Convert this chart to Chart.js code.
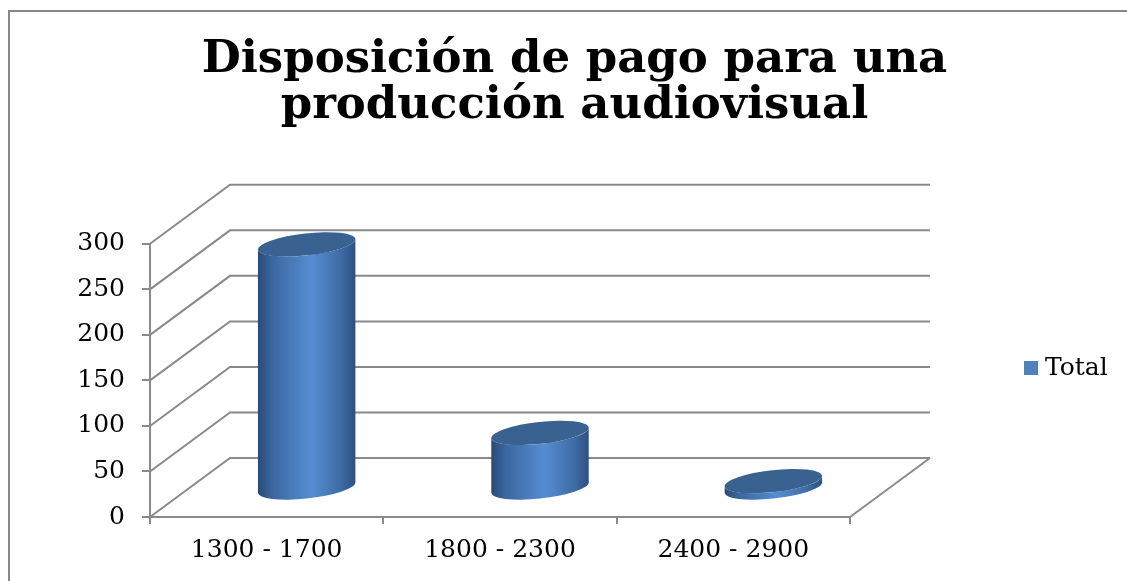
<!DOCTYPE html>
<html>
<head>
<meta charset="utf-8">
<script src="https://cdn.jsdelivr.net/npm/chart.js@4.4.1/dist/chart.umd.min.js"></script>
<style>
  html, body { margin: 0; padding: 0; background: #fff; }
  #wrap { width: 1127px; height: 581px; }
</style>
</head>
<body>
<div id="wrap"><canvas id="pagoChart"></canvas></div>
<script>
const categories = ['1300 - 1700', '1800 - 2300', '2400 - 2900'];
const totals = [267, 60, 7];
const seriesName = 'Total';
const yMin = 0;
const yMax = 300;
const yStep = 50;

const gridColor = '#8a8a8a';
const barBlue = '#4f81bd';
const serif = "'DejaVu Serif', 'Liberation Serif', serif";

// oblique offset of the back wall, like the 3D view in Excel
const depthX = 80;
const depthY = -59;

const cylinderPlugin = {
    id: 'cylinders',
    beforeDraw(chart) {
        const ctx = chart.ctx;
        ctx.save();
        ctx.strokeStyle = '#888';
        ctx.lineWidth = 2;
        ctx.beginPath();
        ctx.moveTo(9, chart.height);
        ctx.lineTo(9, 11);
        ctx.lineTo(chart.width, 11);
        ctx.stroke();
        ctx.restore();
    },
    beforeDatasetsDraw(chart) {
        const ctx = chart.ctx;
        const area = chart.chartArea;
        const y = chart.scales.y;

        // side wall + back wall gridlines
        ctx.save();
        ctx.strokeStyle = gridColor;
        ctx.lineWidth = 2;
        y.ticks.forEach(t => {
            const py = y.getPixelForValue(t.value);
            ctx.beginPath();
            ctx.moveTo(area.left, py);
            ctx.lineTo(area.left + depthX, py + depthY);
            ctx.lineTo(area.right + depthX, py + depthY);
            ctx.stroke();
        });
        const py0 = y.getPixelForValue(0);
        ctx.beginPath();
        ctx.moveTo(area.right, py0);
        ctx.lineTo(area.right + depthX, py0 + depthY);
        ctx.stroke();
        ctx.restore();

        // cylinders
        const meta = chart.getDatasetMeta(0);
        const data = chart.data.datasets[0].data;
        const rot = -0.11;
        meta.data.forEach((bar, i) => {
            const rx = bar.width / 2;
            const ry = 11;
            const cx = bar.x + depthX / 2;
            const yBase = y.getPixelForValue(0) + depthY / 2;
            const yTop = y.getPixelForValue(data[i]) + depthY / 2;
            const t0 = Math.atan(-ry * Math.sin(rot) / (rx * Math.cos(rot)));

            const grad = ctx.createLinearGradient(cx - rx, 0, cx + rx, 0);
            grad.addColorStop(0, '#2a4a75');
            grad.addColorStop(0.15, '#3b67a1');
            grad.addColorStop(0.55, '#568dd2');
            grad.addColorStop(0.85, '#3f6ba5');
            grad.addColorStop(1, '#2d4f7d');

            ctx.save();
            ctx.fillStyle = grad;
            ctx.beginPath();
            ctx.ellipse(cx, yBase, rx, ry, rot, t0, t0 + Math.PI, false);
            ctx.ellipse(cx, yTop, rx, ry, rot, t0 + Math.PI, t0, true);
            ctx.closePath();
            ctx.fill();

            ctx.fillStyle = '#3a6291';
            ctx.beginPath();
            ctx.ellipse(cx, yTop, rx, ry, rot, 0, Math.PI * 2);
            ctx.fill();
            ctx.restore();
        });
        return false;
    },
    afterDraw(chart) {
        const ctx = chart.ctx;
        const lx = chart.width - 103;
        const ly = 368;
        ctx.save();
        ctx.fillStyle = barBlue;
        ctx.fillRect(lx, ly - 7, 14, 14);
        ctx.fillStyle = '#000';
        ctx.font = '25px ' + serif;
        ctx.textBaseline = 'middle';
        ctx.fillText(chart.data.datasets[0].label, lx + 21, ly);
        ctx.restore();
    }
};

const ctx = document.getElementById('pagoChart').getContext('2d');

const pagoChart = new Chart(ctx, {
    type: 'bar',
    data: {
        labels: categories,
        datasets: [{
            label: seriesName,
            data: totals,
            backgroundColor: barBlue,
            borderWidth: 0,
            categoryPercentage: 1,
            barPercentage: 0.42
        }]
    },
    options: {
        responsive: true,
        maintainAspectRatio: false,
        animation: false,
        layout: { padding: { left: 22, right: 0, top: 0, bottom: 0 } },
        plugins: {
            legend: { display: false },
            tooltip: { enabled: false },
            title: {
                display: true,
                text: ['Disposición de pago para una', 'producción audiovisual'],
                color: '#000',
                font: { family: serif, size: 45, weight: 'bold', lineHeight: 1.02 },
                padding: { top: 37, bottom: 115 }
            }
        },
        scales: {
            x: {
                offset: true,
                grid: { drawOnChartArea: false, offset: true, tickLength: 7, color: gridColor, lineWidth: 2 },
                border: { color: gridColor, width: 2 },
                ticks: { color: '#000', padding: 11, font: { family: serif, size: 25 } },
                afterFit(s) { s.height = 64; }
            },
            y: {
                min: yMin,
                max: yMax,
                ticks: { stepSize: yStep, color: '#000', padding: 17, font: { family: serif, size: 25 } },
                grid: { drawOnChartArea: false, tickLength: 8, color: gridColor, lineWidth: 2 },
                border: { color: gridColor, width: 2 },
                afterFit(s) { s.width = 128; }
            },
            yr: {
                position: 'right',
                display: true,
                grid: { display: false },
                border: { display: false },
                ticks: { display: false },
                afterFit(s) { s.width = 277; }
            }
        }
    },
    plugins: [cylinderPlugin]
});
</script>
</body>
</html>
